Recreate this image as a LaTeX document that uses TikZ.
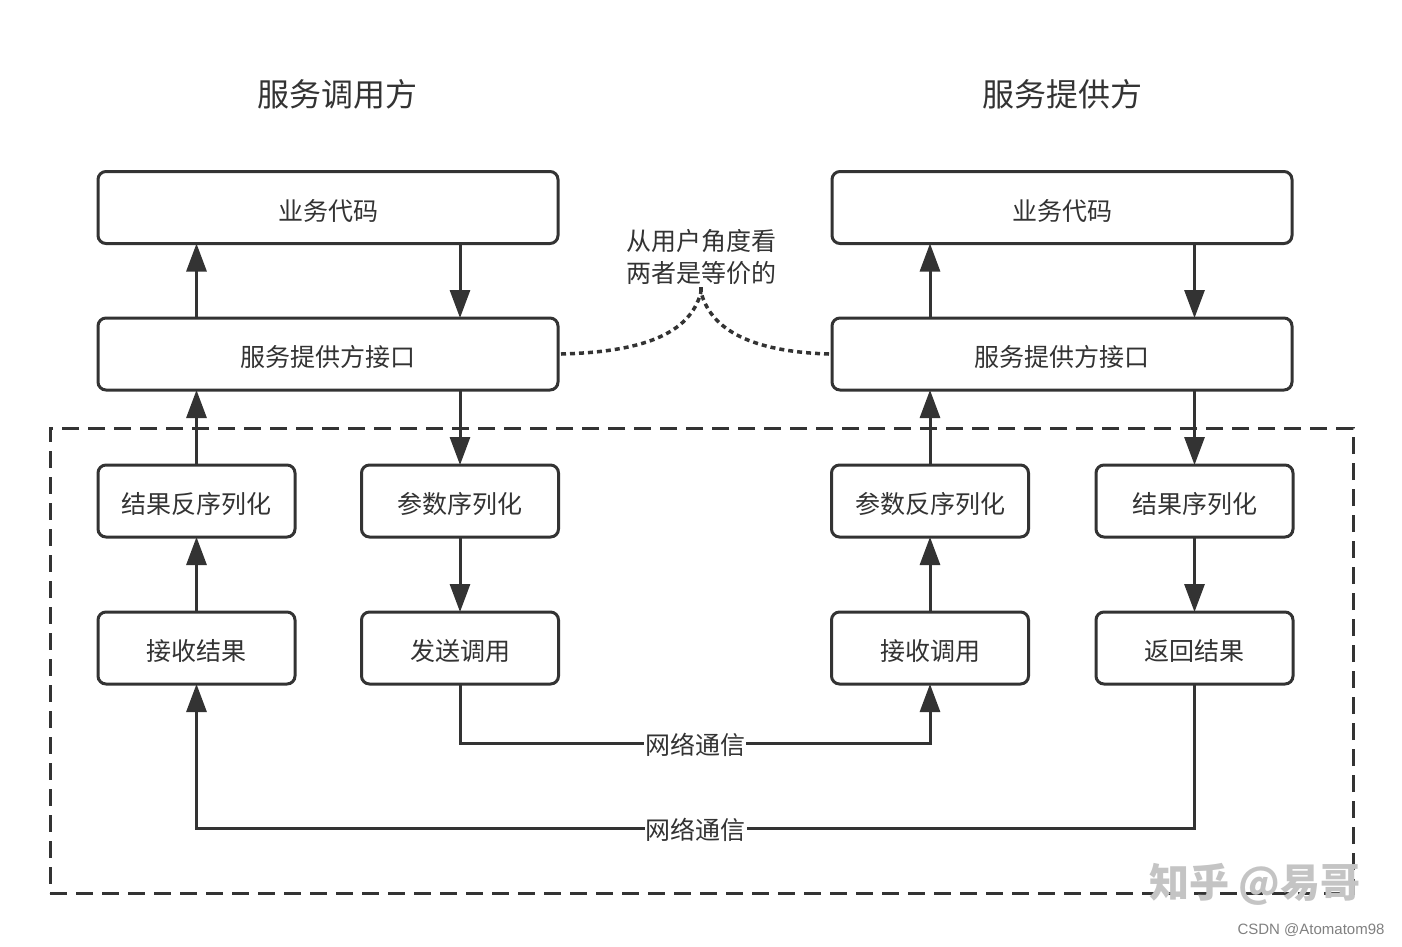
\documentclass[tikz,border=0pt]{standalone}
\usepackage{fontspec}
\setmainfont{Noto Sans CJK SC}
\newfontfamily\latinfont{Liberation Sans}
\usetikzlibrary{arrows.meta}
\definecolor{ink}{HTML}{333333}
\definecolor{wm}{HTML}{C4C4C4}
\begin{document}
\begin{tikzpicture}[x=1pt,y=-1pt,
  box/.style={draw=ink, line width=3pt, rounded corners=8pt, fill=white, text=ink,
    font=\fontsize{25}{30}\selectfont, inner sep=0pt, outer sep=0pt,
    text height=25pt, text depth=0pt},
  wide/.style={box, minimum width=460pt, minimum height=72pt},
  small/.style={box, minimum width=197pt, minimum height=72pt},
  arr/.style={draw=ink, line width=3pt, -{Triangle[width=20pt,length=28pt]}},
  netlabel/.style={fill=white, text=ink, inner sep=1pt, font=\fontsize{25}{30}\selectfont,
    text height=24pt, text depth=1pt},
  title/.style={text=ink, font=\fontsize{32}{38}\selectfont},
  dotline/.style={draw=ink, line width=3.5pt, dash pattern=on 5pt off 4pt},
  zonebox/.style={draw=ink, line width=3pt, dash pattern=on 17pt off 9pt, inner sep=0pt, outer sep=0pt}
]
\useasboundingbox (0,0) rectangle (1402,946);

% dashed zone
\node[zonebox, minimum width=1303pt, minimum height=465pt] (zone) at (701.5,660.5) {};

% titles
\node[title] (tL) at (337,94) {服务调用方};
\node[title] (tR) at (1062,94) {服务提供方};

% left side
\node[wide] (bizL) at (328,207.5) {业务代码};
\node[wide] (ifL) at (328,354) {服务提供方接口};
\node[small] (resDes) at (196.5,501) {结果反序列化};
\node[small] (parSer) at (460,501) {参数序列化};
\node[small] (recvRes) at (196.5,648) {接收结果};
\node[small] (send) at (460,648) {发送调用};

% right side
\node[wide] (bizR) at (1062,207.5) {业务代码};
\node[wide] (ifR) at (1062,354) {服务提供方接口};
\node[small] (parDes) at (930,501) {参数反序列化};
\node[small] (resSer) at (1194.5,501) {结果序列化};
\node[small] (recvCall) at (930,648) {接收调用};
\node[small] (ret) at (1194.5,648) {返回结果};

% left arrows
\draw[arr] (recvRes.north) -- (resDes.south);
\draw[arr] (resDes.north) -- (ifL.south -| resDes.north);
\draw[arr] (ifL.north -| resDes.north) -- (bizL.south -| resDes.north);
\draw[arr] (bizL.south -| parSer.north) -- (ifL.north -| parSer.north);
\draw[arr] (ifL.south -| parSer.north) -- (parSer.north);
\draw[arr] (parSer.south) -- (send.north);

% right arrows
\draw[arr] (bizR.south -| resSer.north) -- (ifR.north -| resSer.north);
\draw[arr] (ifR.south -| resSer.north) -- (resSer.north);
\draw[arr] (resSer.south) -- (ret.north);
\draw[arr] (recvCall.north) -- (parDes.south);
\draw[arr] (parDes.north) -- (ifR.south -| parDes.north);
\draw[arr] (ifR.north -| parDes.north) -- (bizR.south -| parDes.north);

% network
\draw[arr] (send.south) -- ++(0,59) -| (recvCall.south)
  node[netlabel, pos=0.25] {网络通信};
\draw[arr] (ret.south) -- ++(0,144) -| (recvRes.south)
  node[netlabel, pos=0.25] {网络通信};

% equivalence note
\node[text=ink, align=center, font=\fontsize{25}{32}\selectfont, inner sep=0pt] (note) at (701,257) {从用户角度看\\两者是等价的};
\coordinate (apex) at (701,292);
\draw[dotline] (ifL.east) ++(3,0) .. controls (640,352) and (690,335) .. (apex);
\draw[dotline] (ifR.west) ++(-3,0) .. controls (762,352) and (712,335) .. (apex);
\draw[dotline] (apex) -- (note.south);

% watermarks
\node[text=wm, font=\fontsize{40}{44}\selectfont\bfseries] (wm1) at (1255,884) {知乎 @易哥};
\node[text=gray, font=\latinfont\fontsize{15}{18}\selectfont] (csdn) at (1311,930) {CSDN @Atomatom98};
\end{tikzpicture}
\end{document}
